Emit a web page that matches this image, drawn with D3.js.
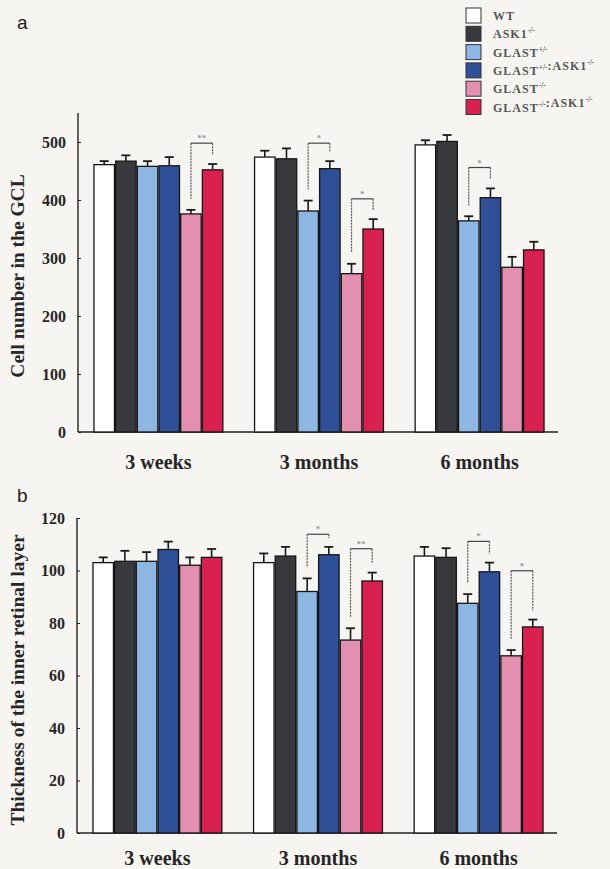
<!DOCTYPE html>
<html>
<head>
<meta charset="utf-8">
<script src="https://cdn.jsdelivr.net/npm/d3@7"></script>
<style>
  body { margin: 0; background: #f7f5f2; }
  svg { display: block; }
  text { font-family: "Liberation Serif", "Times New Roman", serif; font-weight: bold; fill: #262626; }
</style>
</head>
<body>
<div id="main"></div>
<script>
// groups and genotypes
const groups = ['3 weeks', '3 months', '6 months'];
const genotypes = ['WT', 'ASK1-/-', 'GLAST+/-', 'GLAST+/-:ASK1-/-', 'GLAST-/-', 'GLAST-/-:ASK1-/-'];
const colorsList = ['#ffffff', '#38393d', '#8db6e2', '#2f4f96', '#e38fb0', '#d9214f'];

// legend labels split in [text, superscript] parts
const legendLabels = [
    [['WT', '']],
    [['ASK1', '-/-']],
    [['GLAST', '+/-']],
    [['GLAST', '+/-'], [':ASK1', '-/-']],
    [['GLAST', '-/-']],
    [['GLAST', '-/-'], [':ASK1', '-/-']]
];

// panel a : cell number in the GCL (rows = groups, cols = genotypes)
const cellMeans = [
    [461, 467, 458, 459, 376, 452],
    [474, 471, 381, 454, 273, 350],
    [495, 501, 364, 404, 284, 314]
];
const cellErrs = [
    [6, 10, 9, 15, 7, 10],
    [11, 18, 18, 13, 17, 17],
    [8, 11, 8, 16, 18, 14]
];
const cellTicks = [0, 100, 200, 300, 400, 500];
// brackets: group, from genotype, to genotype, label, level
const cellSig = [
    { g: 0, a: 4, b: 5, label: '**', level: 498 },
    { g: 1, a: 2, b: 3, label: '*', level: 498 },
    { g: 1, a: 4, b: 5, label: '*', level: 402 },
    { g: 2, a: 2, b: 3, label: '*', level: 456 }
];

// panel b : thickness of the inner retinal layer
const thickMeans = [
    [103, 103.5, 103.5, 108, 102, 105],
    [103, 105.5, 92, 106, 73.5, 96],
    [105.5, 105, 87.5, 99.5, 67.5, 78.5]
];
const thickErrs = [
    [2, 4, 3.5, 3, 3, 3.2],
    [3.5, 3.5, 5, 3, 4.5, 3.2],
    [3.5, 3.5, 3.5, 3.5, 2.2, 2.8]
];
const thickTicks = [0, 20, 40, 60, 80, 100, 120];
const thickSig = [
    { g: 1, a: 2, b: 3, label: '*', level: 113.8 },
    { g: 1, a: 4, b: 5, label: '**', level: 108.3 },
    { g: 2, a: 2, b: 3, label: '*', level: 111.1 },
    { g: 2, a: 4, b: 5, label: '*', level: 99.9 }
];

const W = 610, H = 869;
const color = d3.scaleOrdinal().domain(genotypes).range(colorsList);

const svg = d3.select('#main').append('svg')
    .attr('width', W)
    .attr('height', H);

function drawPanel(opt) {
    const g = svg.append('g');

    const x = d3.scaleBand()
        .domain(groups)
        .range([opt.left - 1.5, opt.right + 3.5])
        .paddingInner(0.19)
        .paddingOuter(0.105);

    const xs = d3.scaleBand()
        .domain(genotypes)
        .range([0, x.bandwidth()]);

    const y = d3.scaleLinear()
        .domain([0, opt.max])
        .range([opt.bottom, opt.top]);

    // y axis
    const yAxis = g.append('g')
        .attr('transform', `translate(${opt.left},0)`)
        .call(d3.axisLeft(y).tickValues(opt.ticks).tickSize(3).tickPadding(9));
    yAxis.select('.domain').remove();
    yAxis.selectAll('.tick line').attr('stroke', '#222').attr('x2', 3);
    yAxis.selectAll('.tick text')
        .style('font-size', '16px')
        .attr('fill', '#262626');
    g.append('line')
        .attr('x1', opt.left).attr('x2', opt.left)
        .attr('y1', opt.bottom).attr('y2', y(opt.max))
        .attr('stroke', '#222').attr('stroke-width', 1.4);

    // x axis
    g.append('line')
        .attr('x1', opt.left).attr('x2', opt.right)
        .attr('y1', opt.bottom).attr('y2', opt.bottom)
        .attr('stroke', '#222').attr('stroke-width', 1.4);

    g.selectAll('.grp-label')
        .data(groups)
        .enter()
        .append('text')
        .attr('class', 'grp-label')
        .attr('x', d => x(d) + x.bandwidth() / 2)
        .attr('y', opt.bottom + opt.labelOffset)
        .attr('text-anchor', 'middle')
        .style('font-size', '20px')
        .text(d => d);

    // bars
    const rows = [];
    opt.means.forEach((row, gi) => {
        row.forEach((v, si) => {
            rows.push({ group: groups[gi], geno: genotypes[si], value: v, err: opt.errs[gi][si] });
        });
    });

    const bar = g.selectAll('.bar')
        .data(rows)
        .enter()
        .append('g')
        .attr('class', 'bar')
        .attr('transform', d => `translate(${x(d.group) + xs(d.geno)},0)`);

    // error bars (drawn first, behind the bar tops)
    bar.append('line')
        .attr('x1', xs.bandwidth() / 2).attr('x2', xs.bandwidth() / 2)
        .attr('y1', d => y(d.value)).attr('y2', d => y(d.value + d.err))
        .attr('stroke', '#1a1a1a').attr('stroke-width', 1.6);
    bar.append('line')
        .attr('x1', xs.bandwidth() / 2 - 4.5).attr('x2', xs.bandwidth() / 2 + 4.5)
        .attr('y1', d => y(d.value + d.err)).attr('y2', d => y(d.value + d.err))
        .attr('stroke', '#1a1a1a').attr('stroke-width', 1.8);

    bar.append('rect')
        .attr('x', 0.6)
        .attr('y', d => y(d.value))
        .attr('width', xs.bandwidth() - 1.2)
        .attr('height', d => opt.bottom - y(d.value))
        .attr('fill', d => color(d.geno))
        .attr('stroke', '#151515')
        .attr('stroke-width', 1.3);

    // significance brackets
    opt.sig.forEach(s => {
        const gx = x(groups[s.g]);
        const xa = gx + xs(genotypes[s.a]) + xs.bandwidth() / 2;
        const xb = gx + xs(genotypes[s.b]) + xs.bandwidth() / 2;
        const top = y(s.level);
        const ya = y(opt.means[s.g][s.a] + opt.errs[s.g][s.a]) - 11;
        const yb = y(opt.means[s.g][s.b] + opt.errs[s.g][s.b]) - 9;
        g.append('line')
            .attr('x1', xa).attr('x2', xa).attr('y1', top).attr('y2', ya)
            .attr('stroke', '#555').attr('stroke-width', 1.2)
            .attr('stroke-dasharray', '2,1');
        g.append('line')
            .attr('x1', xa).attr('x2', xb).attr('y1', top).attr('y2', top)
            .attr('stroke', '#444').attr('stroke-width', 1.2);
        g.append('line')
            .attr('x1', xb).attr('x2', xb).attr('y1', top).attr('y2', yb)
            .attr('stroke', '#555').attr('stroke-width', 1.2)
            .attr('stroke-dasharray', '2,1');
        g.append('text')
            .attr('x', (xa + xb) / 2)
            .attr('y', top - 2)
            .attr('text-anchor', 'middle')
            .style('font-size', '9px')
            .style('fill', '#999')
            .text(s.label);
    });

    // y title
    g.append('text')
        .attr('transform', `translate(${opt.titleX},${opt.titleY}) rotate(-90)`)
        .attr('text-anchor', 'middle')
        .style('font-size', '19.5px')
        .text(opt.title);

    // panel letter
    svg.append('text')
        .attr('x', opt.letterX)
        .attr('y', opt.letterY)
        .style('font-family', '"Liberation Sans", Arial, sans-serif')
        .style('font-size', '19px')
        .style('font-weight', 'normal')
        .style('fill', '#222')
        .text(opt.letter);
}

drawPanel({
    left: 78, right: 558, top: 113, bottom: 432, max: 550,
    ticks: cellTicks, means: cellMeans, errs: cellErrs, sig: cellSig,
    labelOffset: 37,
    title: 'Cell number in the GCL', titleX: 24, titleY: 276,
    letter: 'a', letterX: 17, letterY: 29
});

drawPanel({
    left: 77, right: 557, top: 518, bottom: 833, max: 120,
    ticks: thickTicks, means: thickMeans, errs: thickErrs, sig: thickSig,
    labelOffset: 32,
    title: 'Thickness of the inner retinal layer', titleX: 24, titleY: 680,
    letter: 'b', letterX: 17, letterY: 502
});

// legend
const legend = svg.append('g')
    .attr('transform', 'translate(466,8)');

const item = legend.selectAll('.legend-item')
    .data(genotypes)
    .enter()
    .append('g')
    .attr('class', 'legend-item')
    .attr('transform', (d, i) => `translate(0,${i * 18.3})`);

item.append('rect')
    .attr('width', 15)
    .attr('height', 15)
    .attr('fill', d => color(d))
    .attr('stroke', '#333')
    .attr('stroke-width', 1);

const label = item.append('text')
    .attr('x', 27)
    .attr('y', 12)
    .style('font-size', '12px')
    .style('letter-spacing', '1px')
    .style('fill', '#555');

label.each(function (d, i) {
    const t = d3.select(this);
    legendLabels[i].forEach(part => {
        t.append('tspan').attr('dy', 0).text(part[0]);
        if (part[1]) {
            t.append('tspan')
                .attr('dy', -5)
                .style('font-size', '7.5px')
                .style('letter-spacing', '0px')
                .text(part[1]);
            t.append('tspan').attr('dy', 5).text('');
        }
    });
});
</script>
</body>
</html>
